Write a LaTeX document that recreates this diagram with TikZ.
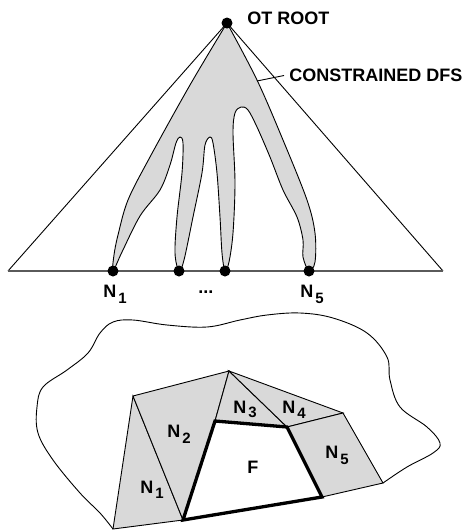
\documentclass[tikz,border=0pt]{standalone}
\usepackage{fontspec}
\setmainfont{Liberation Sans}
\definecolor{shade}{RGB}{217,217,217}
\definecolor{basegray}{RGB}{90,90,90}
\newcommand\Nlab[2][5pt]{N\kern2pt\raisebox{-#1}{\fontsize{15}{15}\selectfont #2}}

\begin{document}
\begin{tikzpicture}[x=1pt, y=-1pt, line width=0.9pt,
  lab/.style={font=\fontsize{18}{20}\selectfont\bfseries, inner sep=0pt},
  dot/.style={circle, fill=black, inner sep=0pt, minimum size=11pt},
  cell/.style={fill=shade, draw=black},
  face/.style={line width=3.3pt, line join=miter},
]
  \useasboundingbox (0,0) rectangle (468,531);
  % search tree with the constrained DFS region
  \filldraw[fill=shade] plot[smooth, tension=0.55] coordinates {
    (227,23) (190,85) (150,157) (128,200) (118,235) (114,255) (113,271)
    (122,252) (140,216) (160,190) (170,165) (176,143) (180,137) (183,143)
    (182,173) (177,217) (175,253) (179,271)
    (184,260) (193,217) (202,173) (205,145) (210,137) (213,143) (217,173)
    (220,217) (222,253) (225,271)
    (229,262) (233,233) (235,183) (233,133) (235,113) (241,107) (248,110)
    (257,127) (270,157) (283,190) (297,217) (303,240) (303,257) (309,271)
    (315,262) (315,233) (307,200) (283,140) (257,80) (227,23)};
  \coordinate (bl) at (8,271);
  \coordinate (br) at (443,271);
  \node[dot] (root) at (227,23) {};
  \draw (bl) -- (root.center) -- (br);
  \draw[basegray, line width=1.4pt] (bl) -- (br);
  \foreach \n/\x in {l1/113, l2/179, l3/225, l5/309}
    \node[dot] (\n) at (\x,271) {};
  \node[lab, anchor=base west] (otroot) at (247,24) {OT ROOT};
  \node[lab, anchor=west, inner xsep=5pt] (dfs) at (284,75.5) {CONSTRAINED DFS};
  \coordinate (lead) at (257,81);
  \draw (lead) -- (dfs.west);
  \node[lab, anchor=base west] (t1) at (103,297) {\Nlab[6pt]{1}};
  \node[lab, anchor=base west] (tdots) at (198,293) {...};
  \node[lab, anchor=base west] (t5) at (300,297) {\Nlab[6pt]{5}};
  % mesh around the face F
  \draw plot[smooth, tension=0.6] coordinates {
    (113,529) (100,513) (80,493) (53,460) (38,433) (37,407) (43,387)
    (67,370) (88,353) (100,333) (113,322) (133,320) (167,325) (207,327)
    (240,320) (267,315) (300,313) (333,318) (367,333) (387,357) (390,380)
    (400,407) (427,427) (440,443) (433,453) (407,467) (383,483)};
  \coordinate (A) at (113,529);
  \coordinate (B) at (133,396);
  \coordinate (C) at (183,520);
  \coordinate (D) at (229,371);
  \coordinate (E) at (215,421);
  \coordinate (G) at (287,427);
  \coordinate (H) at (343,413);
  \coordinate (I) at (322,497);
  \coordinate (J) at (383,483);
  \filldraw[cell] (A) -- (B) -- (C) -- cycle;
  \filldraw[cell] (B) -- (D) -- (E) -- (C) -- cycle;
  \filldraw[cell] (D) -- (G) -- (E) -- cycle;
  \filldraw[cell] (D) -- (H) -- (G) -- cycle;
  \filldraw[cell] (G) -- (H) -- (J) -- (I) -- cycle;
  \draw[face] (E) -- (G) -- (I) -- (C) -- cycle;
  \node[lab, anchor=base west] (m1) at (140,493) {\Nlab{1}};
  \node[lab, anchor=base west] (m2) at (167,437) {\Nlab[6pt]{2}};
  \node[lab, anchor=base west] (m3) at (233,413) {\Nlab[4pt]{3}};
  \node[lab, anchor=base west] (m4) at (282,413) {\Nlab{4}};
  \node[lab, anchor=base west] (m5) at (325,458) {\Nlab[6pt]{5}};
  \node[lab, anchor=base west] (mf) at (247,473) {F};
\end{tikzpicture}
\end{document}
